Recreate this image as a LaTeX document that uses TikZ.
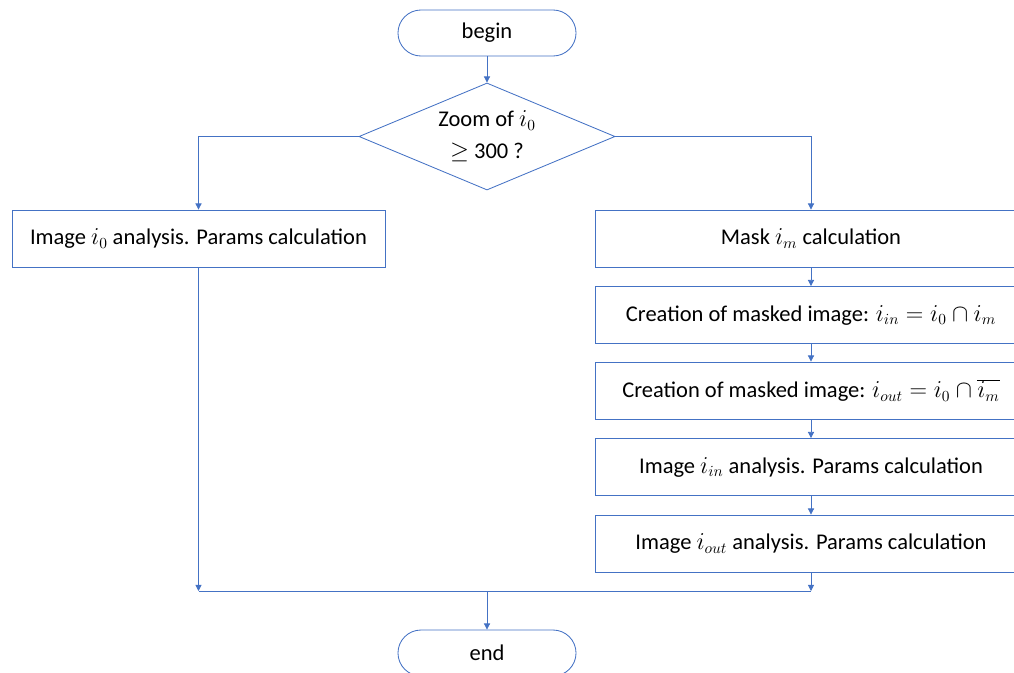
\documentclass[tikz,border=0pt]{standalone}
\usepackage{fontspec}
\setmainfont{Carlito}
\usepackage{tikz}
\usetikzlibrary{arrows.meta,calc,shapes.geometric}

\definecolor{flowblue}{HTML}{4472C4}
\tikzset{
    flowline/.style={draw=flowblue, line width=0.6pt},
    flowarrow/.style={flowline, -{Triangle[width=4.4pt,length=4.4pt]}},
    terminal/.style={draw=flowblue, line width=0.6pt, rounded corners=0.575cm,
        minimum width=4.45cm, minimum height=1.15cm, inner sep=0pt},
    decision/.style={diamond, draw=flowblue, line width=0.6pt, aspect=2.39,
        minimum width=6.4cm, minimum height=2.675cm, inner sep=0pt, align=center,
        font=\fontsize{16pt}{23pt}\selectfont},
    stepbox/.style={draw=flowblue, line width=0.6pt, minimum height=1.425cm, inner sep=0pt},
    leftbox/.style={stepbox, minimum width=9.325cm},
    rightbox/.style={stepbox, minimum width=10.8cm},
}

\begin{document}
\begin{tikzpicture}[x=0.025cm, y=-0.025cm, font=\fontsize{16pt}{19.5pt}\selectfont]
    %% Frame
    \useasboundingbox (0,0) rectangle (1014,672);
    \clip (0,0) rectangle (1014,672);

    %% Nodes
    \node[terminal] (begin) at (487,33) {begin};
    \node[decision] (zoom) at (487,136.5) {Zoom of \(i_0\)\\\(\geq\) 300 ?};
    \node[leftbox] (full) at (198.5,238.5) {Image \(i_0\) analysis. Params calculation};
    \node[rightbox] (mask) at (811,238.5) {Mask \(i_m\) calculation};
    \node[rightbox] (maskin) at (811,315) {Creation of masked image: \(i_{in} = i_0 \cap i_m\)};
    \node[rightbox] (maskout) at (811,390.5) {Creation of masked image: \(i_{out} = i_0 \cap \overline{i_m}\)};
    \node[rightbox] (imgin) at (811,467) {Image \(i_{in}\) analysis. Params calculation};
    \node[rightbox] (imgout) at (811,543.5) {Image \(i_{out}\) analysis. Params calculation};
    \node[terminal] (end) at (487,653) {end};

    \coordinate (joinL) at (full.south |- 0,591);
    \coordinate (joinR) at (imgout.south |- 0,591);
    \coordinate (joinM) at (end.north |- 0,591);

    %% Connectors
    \draw[flowarrow] (begin) to (zoom);
    \draw[flowarrow] (zoom.west) -| (full.north);
    \draw[flowarrow] (zoom.east) -| (mask.north);
    \draw[flowarrow] (mask) to (maskin);
    \draw[flowarrow] (maskin) to (maskout);
    \draw[flowarrow] (maskout) to (imgin);
    \draw[flowarrow] (imgin) to (imgout);
    \draw[flowarrow] (full.south) to (joinL);
    \draw[flowarrow] (imgout.south) to (joinR);
    \draw[flowline] (joinL) to (joinR);
    \draw[flowarrow] (joinM) to (end.north);
\end{tikzpicture}
\end{document}
